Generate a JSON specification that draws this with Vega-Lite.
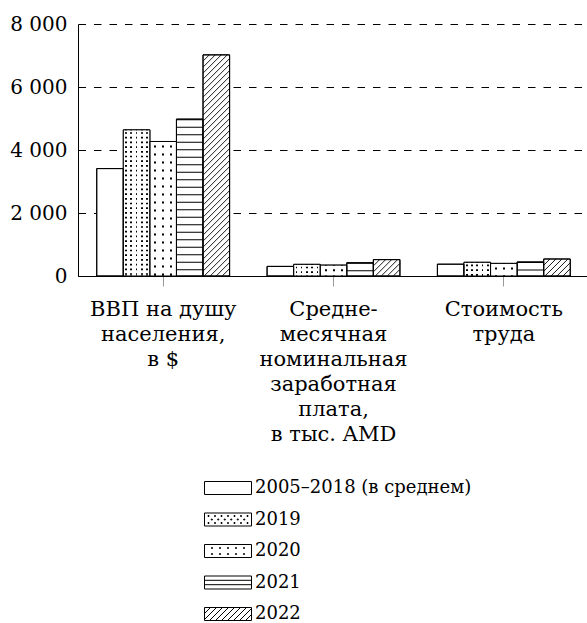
{
  "$schema": "https://vega.github.io/schema/vega-lite/v6.json",
  "background": "white",
  "padding": {"left": 9, "top": 14, "right": 0, "bottom": 0},
  "config": {"view": {"stroke": null}, "font": "DejaVu Serif"},
  "datasets": {
    "bars": [
      {"group": "ВВП на душу\nнаселения,\nв $", "series": "2005–2018 (в среднем)", "value": 3410},
      {"group": "ВВП на душу\nнаселения,\nв $", "series": "2019", "value": 4640},
      {"group": "ВВП на душу\nнаселения,\nв $", "series": "2020", "value": 4270},
      {"group": "ВВП на душу\nнаселения,\nв $", "series": "2021", "value": 4980},
      {"group": "ВВП на душу\nнаселения,\nв $", "series": "2022", "value": 7020},
      {"group": "Средне-\nмесячная\nноминальная\nзаработная\nплата,\nв тыс. AMD", "series": "2005–2018 (в среднем)", "value": 305},
      {"group": "Средне-\nмесячная\nноминальная\nзаработная\nплата,\nв тыс. AMD", "series": "2019", "value": 370},
      {"group": "Средне-\nмесячная\nноминальная\nзаработная\nплата,\nв тыс. AMD", "series": "2020", "value": 345},
      {"group": "Средне-\nмесячная\nноминальная\nзаработная\nплата,\nв тыс. AMD", "series": "2021", "value": 420},
      {"group": "Средне-\nмесячная\nноминальная\nзаработная\nплата,\nв тыс. AMD", "series": "2022", "value": 520},
      {"group": "Стоимость\nтруда", "series": "2005–2018 (в среднем)", "value": 375},
      {"group": "Стоимость\nтруда", "series": "2019", "value": 435},
      {"group": "Стоимость\nтруда", "series": "2020", "value": 400},
      {"group": "Стоимость\nтруда", "series": "2021", "value": 445},
      {"group": "Стоимость\nтруда", "series": "2022", "value": 540}
    ],
    "legend": [
      {"series": "2005–2018 (в среднем)"},
      {"series": "2019"},
      {"series": "2020"},
      {"series": "2021"},
      {"series": "2022"}
    ]
  },
  "spacing": 35,
  "vconcat": [
    {
      "width": 511,
      "height": 252,
      "data": {"name": "bars"},
      "encoding": {
        "x": {
          "field": "group", "type": "nominal",
          "scale": {"domain": ["ВВП на душу\nнаселения,\nв $", "Средне-\nмесячная\nноминальная\nзаработная\nплата,\nв тыс. AMD", "Стоимость\nтруда"], "paddingInner": 0.22, "paddingOuter": 0.11},
          "axis": {"title": null, "labelAngle": 0, "labelExpr": "split(datum.label, '\\n')", "labelFont": "DejaVu Serif", "labelFontSize": 21, "labelLineHeight": 25, "labelColor": "black", "labelLimit": 0, "labelPadding": 12, "labelOverlap": false, "tickSize": 10, "tickColor": "#999999", "tickWidth": 1, "domainColor": "black", "domainWidth": 1}
        },
        "xOffset": {"field": "series", "type": "nominal", "scale": {"domain": ["2005–2018 (в среднем)", "2019", "2020", "2021", "2022"]}},
        "y": {
          "field": "value", "type": "quantitative",
          "scale": {"domain": [0, 8000], "nice": false},
          "axis": {"title": null, "values": [0, 2000, 4000, 6000, 8000], "labelExpr": "replace(format(datum.value, ','), ',', ' ')", "labelFont": "DejaVu Serif", "labelFontSize": 20, "labelColor": "black", "labelPadding": 11, "ticks": false, "domainColor": "black", "domainWidth": 1, "grid": true, "gridColor": "black", "gridDash": [7.5, 8], "gridWidth": 1, "gridOpacity": 1}
        }
      },
      "layer": [
        {"mark": {"type": "bar", "fill": "white", "stroke": "black", "strokeWidth": 1}},
        {
          "transform": [{"filter": {"field": "series", "oneOf": ["2019", "2020", "2021"]}}],
          "mark": {"type": "rule", "color": "black", "strokeWidth": 26.4},
          "encoding": {
            "y2": {"datum": 0},
            "strokeDash": {
              "condition": [
                {"test": "datum.series === '2019'", "value": [0, 2.3, 1.7, 0.7]},
                {"test": "datum.series === '2020'", "value": [0, 4, 2, 2]}
              ],
              "value": [1, 6.5]
            }
          }
        },
        {
          "transform": [{"filter": {"field": "series", "oneOf": ["2019", "2020"]}}],
          "mark": {"type": "bar", "strokeWidth": 0},
          "encoding": {
            "fill": {
              "condition": {"test": "datum.series === '2019'", "value": {"gradient": "linear", "x1": 0, "y1": 0, "x2": 1, "y2": 0, "stops": [
                {"offset": 0, "color": "white"},
                {"offset": 0.07, "color": "white"},
                {"offset": 0.07, "color": "rgba(255,255,255,0)"},
                {"offset": 0.135, "color": "rgba(255,255,255,0)"},
                {"offset": 0.135, "color": "white"},
                {"offset": 0.267, "color": "white"},
                {"offset": 0.267, "color": "rgba(255,255,255,0)"},
                {"offset": 0.332, "color": "rgba(255,255,255,0)"},
                {"offset": 0.332, "color": "white"},
                {"offset": 0.468, "color": "white"},
                {"offset": 0.468, "color": "rgba(255,255,255,0)"},
                {"offset": 0.533, "color": "rgba(255,255,255,0)"},
                {"offset": 0.533, "color": "white"},
                {"offset": 0.667, "color": "white"},
                {"offset": 0.667, "color": "rgba(255,255,255,0)"},
                {"offset": 0.732, "color": "rgba(255,255,255,0)"},
                {"offset": 0.732, "color": "white"},
                {"offset": 0.866, "color": "white"},
                {"offset": 0.866, "color": "rgba(255,255,255,0)"},
                {"offset": 0.931, "color": "rgba(255,255,255,0)"},
                {"offset": 0.931, "color": "white"},
                {"offset": 1, "color": "white"}
              ]}},
              "value": {"gradient": "linear", "x1": 0, "y1": 0, "x2": 1, "y2": 0, "stops": [
                {"offset": 0, "color": "white"},
                {"offset": 0.162, "color": "white"},
                {"offset": 0.162, "color": "rgba(255,255,255,0)"},
                {"offset": 0.237, "color": "rgba(255,255,255,0)"},
                {"offset": 0.237, "color": "white"},
                {"offset": 0.463, "color": "white"},
                {"offset": 0.463, "color": "rgba(255,255,255,0)"},
                {"offset": 0.538, "color": "rgba(255,255,255,0)"},
                {"offset": 0.538, "color": "white"},
                {"offset": 0.764, "color": "white"},
                {"offset": 0.764, "color": "rgba(255,255,255,0)"},
                {"offset": 0.839, "color": "rgba(255,255,255,0)"},
                {"offset": 0.839, "color": "white"},
                {"offset": 1, "color": "white"}
              ]}
            }
          }
        },
        {
          "transform": [{"filter": {"field": "series", "equal": "2022"}}],
          "mark": {"type": "point", "filled": false, "color": "black", "strokeWidth": 0.9, "size": 4, "opacity": 1},
          "encoding": {
            "shape": {
              "condition": [
                {"test": "indexof(datum.group, 'ВВП') >= 0", "value": "M-7,0L-13,6M-1,0L-13,12M5,0L-13,18M11,0L-13,24M13,4L-13,30M13,10L-13,36M13,16L-13,42M13,22L-13,48M13,28L-13,54M13,34L-13,60M13,40L-13,66M13,46L-13,72M13,52L-13,78M13,58L-13,84M13,64L-13,90M13,70L-13,96M13,76L-13,102M13,82L-13,108M13,88L-13,114M13,94L-13,120M13,100L-13,126M13,106L-13,132M13,112L-13,138M13,118L-13,144M13,124L-13,150M13,130L-13,156M13,136L-13,162M13,142L-13,168M13,148L-13,174M13,154L-13,180M13,160L-13,186M13,166L-13,192M13,172L-13,198M13,178L-13,204M13,184L-13,210M13,190L-13,216M13,196L-12,221M13,202L-6,221M13,208L0,221M13,214L6,221M13,220L12,221"},
                {"test": "indexof(datum.group, 'Стоимость') >= 0", "value": "M-7,0L-13,6M-1,0L-13,12M5,0L-12,17M11,0L-6,17M13,4L0,17M13,10L6,17M13,16L12,17"}
              ],
              "value": "M-7,0L-13,6M-1,0L-13,12M5,0L-11,16M11,0L-5,16M13,4L1,16M13,10L7,16"
            }
          }
        },
        {"mark": {"type": "bar", "fill": "transparent", "stroke": "black", "strokeWidth": 1}}
      ]
    },
    {
      "width": 300,
      "height": 126,
      "data": {"name": "legend"},
      "encoding": {
        "y": {"field": "series", "type": "nominal", "scale": {"type": "point", "domain": ["2005–2018 (в среднем)", "2019", "2020", "2021", "2022"], "padding": 0}, "axis": null}
      },
      "layer": [
        {
          "mark": {"type": "point", "filled": false, "color": "black", "strokeWidth": 1, "size": 4, "opacity": 1},
          "encoding": {
            "shape": {
              "field": "series", "type": "nominal", "legend": null,
              "scale": {
                "domain": ["2005–2018 (в среднем)", "2019", "2020", "2021", "2022"],
                "range": [
                  "M-23.5,-6.5H23.5V6.5H-23.5Z",
                  "M-23.5,-6.5H23.5V6.5H-23.5Z M-20,-4h1v1h-1Z M-13.5,-4h1v1h-1Z M-7,-4h1v1h-1Z M-0.5,-4h1v1h-1Z M6,-4h1v1h-1Z M12.5,-4h1v1h-1Z M19,-4h1v1h-1Z M-20,3h1v1h-1Z M-13.5,3h1v1h-1Z M-7,3h1v1h-1Z M-0.5,3h1v1h-1Z M6,3h1v1h-1Z M12.5,3h1v1h-1Z M19,3h1v1h-1Z M-16.75,-0.5h1v1h-1Z M-10.25,-0.5h1v1h-1Z M-3.75,-0.5h1v1h-1Z M2.75,-0.5h1v1h-1Z M9.25,-0.5h1v1h-1Z M15.75,-0.5h1v1h-1Z",
                  "M-23.5,-6.5H23.5V6.5H-23.5Z M-16.5,-3.5h1v1h-1Z M-8.5,-3.5h1v1h-1Z M-0.5,-3.5h1v1h-1Z M7.5,-3.5h1v1h-1Z M15.5,-3.5h1v1h-1Z M-16.5,2.5h1v1h-1Z M-8.5,2.5h1v1h-1Z M-0.5,2.5h1v1h-1Z M7.5,2.5h1v1h-1Z M15.5,2.5h1v1h-1Z",
                  "M-23.5,-6.5H23.5V6.5H-23.5Z M-23.5,-2.2H23.5 M-23.5,2.2H23.5",
                  "M-23.5,-6.5H23.5V6.5H-23.5Z M-17.5,-6.5L-23.5,-0.5 M-11.5,-6.5L-23.5,5.5 M-5.5,-6.5L-18.5,6.5 M0.5,-6.5L-12.5,6.5 M6.5,-6.5L-6.5,6.5 M12.5,-6.5L-0.5,6.5 M18.5,-6.5L5.5,6.5 M23.5,-5.5L11.5,6.5 M23.5,0.5L17.5,6.5"
                ]
              }
            }
          }
        },
        {
          "mark": {"type": "text", "align": "left", "baseline": "middle", "dx": 27, "font": "DejaVu Serif", "fontSize": 18, "color": "black"},
          "encoding": {"text": {"field": "series"}}
        }
      ]
    }
  ]
}
